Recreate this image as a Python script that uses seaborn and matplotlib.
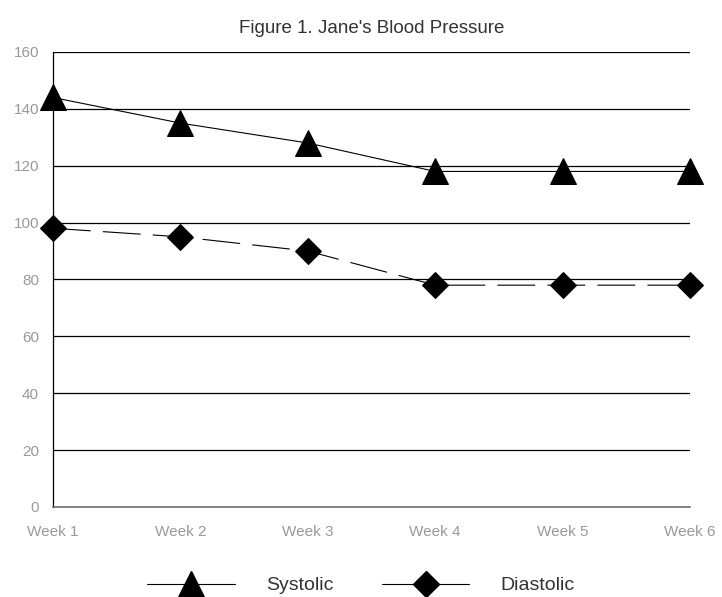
import matplotlib
matplotlib.use("Agg")
import matplotlib.pyplot as plt
import seaborn as sns
import pandas as pd

# data
weeks = ["Week 1", "Week 2", "Week 3", "Week 4", "Week 5", "Week 6"]
systolic = [144, 135, 128, 118, 118, 118]
diastolic = [98, 95, 90, 78, 78, 78]
y_ticks = [0, 20, 40, 60, 80, 100, 120, 140, 160]

df = pd.DataFrame({
    "Week": weeks * 2,
    "Pressure": systolic + diastolic,
    "Series": ["Systolic"] * len(weeks) + ["Diastolic"] * len(weeks),
})

sns.set_style("white")
plt.rcParams["font.family"] = ["Liberation Sans", "DejaVu Sans"]

fig = plt.figure(figsize=(7.22, 5.97), dpi=100)
ax = fig.add_axes([0.0734, 0.1508, 0.8823, 0.7621])

sns.lineplot(data=df[df.Series == "Systolic"], x="Week", y="Pressure",
             marker="^", color="black", markersize=19, markeredgecolor="black",
             linewidth=0.8, ax=ax, legend=False, clip_on=False)
sns.lineplot(data=df[df.Series == "Diastolic"], x="Week", y="Pressure",
             marker="D", color="black", markersize=13, markeredgecolor="black",
             linewidth=0.8, linestyle=(0, (34, 11)),
             ax=ax, legend=False, clip_on=False)

ax.set_ylim(0, 160)
ax.set_xlim(0, 5)
ax.set_yticks(y_ticks)
ax.set_xticks(range(len(weeks)))
ax.set_xticklabels(weeks)
ax.set_xlabel("")
ax.set_ylabel("")
ax.yaxis.grid(True, color="black", linewidth=0.9)
ax.set_axisbelow(True)
for s in ["top", "right"]:
    ax.spines[s].set_visible(False)
ax.spines["left"].set_color("black")
ax.spines["left"].set_linewidth(0.9)
ax.spines["bottom"].set_color("#707070")
ax.spines["bottom"].set_linewidth(1.2)
ax.tick_params(axis="both", labelsize=11, length=7, width=0.9,
               labelcolor="#999999")
ax.tick_params(axis="y", length=6, pad=4, color="#707070")
ax.tick_params(axis="x", color="black", pad=6)

ax.set_title("Figure 1. Jane's Blood Pressure", fontsize=13.5, color="#333333",
             pad=14)

# legend at bottom
h1 = plt.Line2D([], [], color="black", lw=0.8, marker="^", markersize=19)
h2 = plt.Line2D([], [], color="black", lw=0.8, marker="D", markersize=13)
fig.legend([h1, h2], ["Systolic", "Diastolic"], loc="lower center",
           bbox_to_anchor=(0.5, -0.025), ncol=2, frameon=False, fontsize=14,
           handlelength=4.5, columnspacing=2.5, handletextpad=1.6,
           labelcolor="#333333")

fig.savefig("out.png", dpi=100)
